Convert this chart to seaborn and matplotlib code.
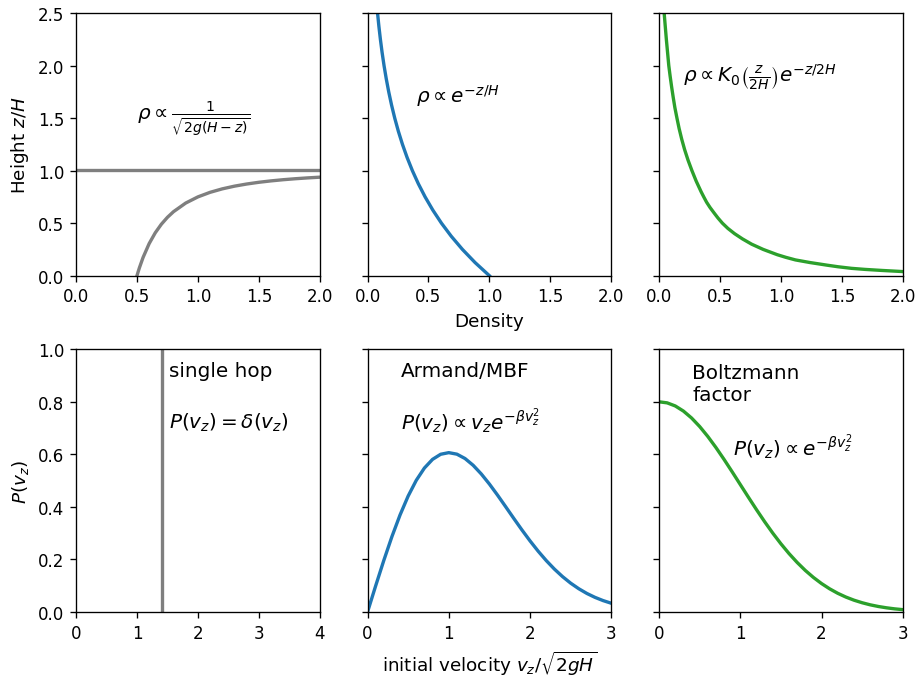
import matplotlib
matplotlib.use("Agg")
import matplotlib.pyplot as plt
import seaborn as sns

# ---- data ----
# top row: density profiles, x = density, y = height z/H
hop_height = [0.0, 0.0388, 0.0754, 0.1736, 0.3056, 0.4083, 0.4898, 0.5556, 0.6094,
              0.6914, 0.75, 0.7934, 0.8264, 0.8521, 0.8724, 0.8889, 0.9023, 0.9135,
              0.9228, 0.9307, 0.9375]
hop_density = [0.5, 0.51, 0.52, 0.55, 0.6, 0.65, 0.7, 0.75, 0.8,
               0.9, 1.0, 1.1, 1.2, 1.3, 1.4, 1.5, 1.6, 1.7,
               1.8, 1.9, 2.0]
hop_top = [1.01, 1.01]
hop_top_x = [0.0, 2.0]

exp_height = [0.0, 0.125, 0.25, 0.375, 0.5, 0.625, 0.75, 0.875, 1.0, 1.125, 1.25,
              1.375, 1.5, 1.625, 1.75, 1.875, 2.0, 2.125, 2.25, 2.375, 2.5]
exp_density = [1.0, 0.8825, 0.7788, 0.6873, 0.6065, 0.5353, 0.4724, 0.4169, 0.3679,
               0.3247, 0.2865, 0.2528, 0.2231, 0.1969, 0.1738, 0.1534, 0.1353,
               0.1194, 0.1054, 0.0930, 0.0821]

k0_height = [0.035, 0.04, 0.05, 0.06, 0.07, 0.085, 0.1, 0.125, 0.15, 0.175, 0.2,
             0.25, 0.3, 0.35, 0.4, 0.45, 0.5, 0.55, 0.6, 0.65, 0.7, 0.75, 0.8,
             0.9, 1.0, 1.1, 1.2, 1.3, 1.4, 1.5, 1.6, 1.7, 1.8, 1.9, 2.0,
             2.125, 2.25, 2.375, 2.5]
k0_density = [2.05, 1.99, 1.83, 1.69, 1.58, 1.47, 1.38, 1.24, 1.12, 1.04, 0.97,
              0.855, 0.76, 0.685, 0.62, 0.565, 0.52, 0.483, 0.45, 0.418, 0.39, 0.367, 0.345,
              0.305, 0.27, 0.238, 0.21, 0.186, 0.165, 0.147, 0.13, 0.116, 0.103, 0.091, 0.08,
              0.07, 0.06, 0.051, 0.042]

# bottom row: launch velocity distributions
delta_v = [1.414, 1.414]
delta_p = [0.0, 1.0]

vel = [0.0, 0.1, 0.2, 0.3, 0.4, 0.5, 0.6, 0.7, 0.8, 0.9, 1.0, 1.1, 1.2, 1.3, 1.4, 1.5,
       1.6, 1.7, 1.8, 1.9, 2.0, 2.1, 2.2, 2.3, 2.4, 2.5, 2.6, 2.7, 2.8, 2.9, 3.0]
mbf_p = [0.0, 0.0995, 0.1960, 0.2868, 0.3692, 0.4413, 0.5012, 0.5479, 0.5809, 0.6003,
         0.6065, 0.6007, 0.5841, 0.5584, 0.5254, 0.4870, 0.4449, 0.4008, 0.3562, 0.3125,
         0.2707, 0.2315, 0.1956, 0.1633, 0.1347, 0.1098, 0.0885, 0.0705, 0.0556, 0.0433,
         0.0333]
boltz_p = [0.8, 0.7960, 0.7842, 0.7648, 0.7385, 0.7060, 0.6682, 0.6262, 0.5809, 0.5336,
           0.4852, 0.4369, 0.3894, 0.3436, 0.3002, 0.2597, 0.2224, 0.1886, 0.1583, 0.1316,
           0.1083, 0.0882, 0.0711, 0.0568, 0.0449, 0.0352, 0.0272, 0.0209, 0.0159, 0.0119,
           0.0089]

gray, blue, green = "tab:gray", "tab:blue", "tab:green"

fig, axes = plt.subplots(2, 3, figsize=(7.7, 5.6833), dpi=120)
plt.subplots_adjust(left=0.0823, right=0.977, top=0.9795, bottom=0.1012,
                    wspace=0.196, hspace=0.28)

kw = dict(sort=False, estimator=None, linewidth=2)

# --- top row ---
ax = axes[0, 0]
sns.lineplot(x=hop_top_x, y=hop_top, color=gray, ax=ax, **kw)
sns.lineplot(x=hop_density, y=hop_height, color=gray, ax=ax, **kw)
ax.text(0.5, 1.5, r"$\rho \propto \frac{1}{\sqrt{2g(H-z)}}$", fontsize=12, va="center")
ax.set_ylabel("Height $z/H$", fontsize=11)

ax = axes[0, 1]
sns.lineplot(x=exp_density, y=exp_height, color=blue, ax=ax, **kw)
ax.text(0.4, 1.72, r"$\rho \propto e^{-z/H}$", fontsize=12, va="center")
ax.set_xlabel("Density", fontsize=11)

ax = axes[0, 2]
sns.lineplot(x=k0_density, y=k0_height, color=green, ax=ax, **kw)
ax.text(0.2, 1.9, r"$\rho \propto K_0\left(\frac{z}{2H}\right)e^{-z/2H}$",
        fontsize=12, va="center")

for i, ax in enumerate(axes[0]):
    ax.set_xlim(0, 2)
    ax.set_ylim(0, 2.5)
    if i > 0:
        ax.set_yticklabels([])

# --- bottom row ---
ax = axes[1, 0]
sns.lineplot(x=delta_v, y=delta_p, color=gray, ax=ax, **kw)
ax.text(1.53, 0.92, "single hop", fontsize=12, va="center")
ax.text(1.53, 0.725, r"$P(v_z) = \delta(v_z)$", fontsize=12, va="center")
ax.set_xlim(0, 4)
ax.set_ylabel("$P(v_z)$", fontsize=11)

ax = axes[1, 1]
sns.lineplot(x=vel, y=mbf_p, color=blue, ax=ax, **kw)
ax.text(0.41, 0.92, "Armand/MBF", fontsize=12, va="center")
ax.text(0.41, 0.73, r"$P(v_z) \propto v_z e^{-\beta v_z^2}$", fontsize=12, va="center")
ax.set_xlim(0, 3)
ax.set_xlabel(r"initial velocity $v_z/\sqrt{2gH}$", fontsize=11)

ax = axes[1, 2]
sns.lineplot(x=vel, y=boltz_p, color=green, ax=ax, **kw)
ax.text(0.41, 0.87, "Boltzmann\nfactor", fontsize=12, va="center")
ax.text(0.91, 0.63, r"$P(v_z) \propto e^{-\beta v_z^2}$", fontsize=12, va="center")
ax.set_xlim(0, 3)

for i, ax in enumerate(axes[1]):
    ax.set_ylim(0, 1)
    ax.set_yticks([0, 0.2, 0.4, 0.6, 0.8, 1.0])
    ax.set_xticks(range(0, int(ax.get_xlim()[1]) + 1))
    if i > 0:
        ax.set_yticklabels([])

for ax in axes.flat:
    if ax.get_legend() is not None:
        ax.get_legend().remove()

fig.savefig("out.png", dpi=120)
